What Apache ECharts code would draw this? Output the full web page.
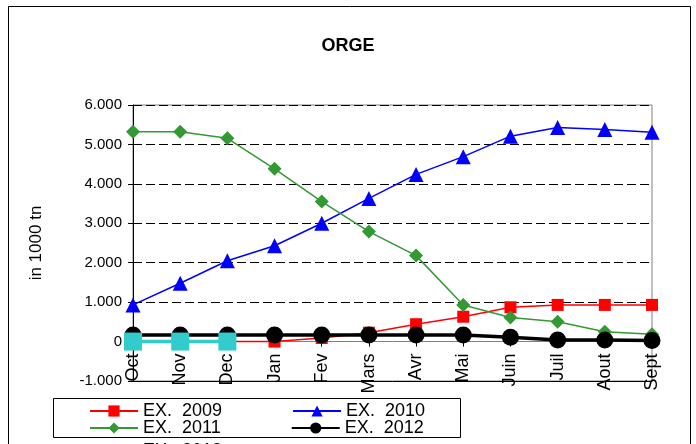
<!DOCTYPE html>
<html><head><meta charset="utf-8">
<script src="https://cdn.jsdelivr.net/npm/echarts@6/dist/echarts.min.js"></script>
<style>html,body{margin:0;padding:0;background:#fff}#c{width:696px;height:444px}</style>
</head><body><div id="c"></div>
<script>
const categories = ['Oct','Nov','Dec','Jan','Fev','Mars','Avr','Mai','Juin','Juil','Aout','Sept'];
const ex2009 = [0, 0, 0, 0, 90, 225, 440, 630, 870, 930, 930, 930];
const ex2010 = [930, 1480, 2050, 2430, 3000, 3630, 4240, 4690, 5210, 5430, 5380, 5310];
const ex2011 = [5320, 5320, 5155, 4380, 3550, 2790, 2180, 930, 610, 505, 250, 185];
const ex2012 = [165, 165, 165, 165, 165, 165, 165, 165, 110, 40, 40, 25];
const ex2013 = [0, 0, 0, null, null, null, null, null, null, null, null, null];
const seriesNames = ['EX.  2009', 'EX.  2010', 'EX.  2011', 'EX.  2012', 'EX.  2013'];
const yTicks = { min: -1000, max: 6000, step: 1000 };

const font = 'Liberation Sans, Arial, sans-serif';
function fmt(v){ const s = Math.abs(v).toString().replace(/\B(?=(\d{3})+(?!\d))/g, '.'); return (v<0?'-':'') + s; }

const W = 696, H = 444;
const grid = { left:133, right:44, top:105, bottom:63 };
const plotH = H - grid.top - grid.bottom;
// position of the category axis (value 0) measured from the bottom of the plot
const zeroOffset = -plotH * (0 - yTicks.min) / (yTicks.max - yTicks.min);

const chart = echarts.init(document.getElementById('c'), null, {renderer:'canvas'});
const legendBase = { orient:'horizontal', itemWidth:48, itemHeight:14, textStyle:{fontFamily:font, fontSize:18, color:'#000'}, itemGap:70, itemTextGap:5, padding:0, selectedMode:false };
chart.setOption({
  animation:false,
  backgroundColor:'#fff',
  textStyle:{fontFamily:font},
  title:{ text:'ORGE', left:'center', top:32, textStyle:{fontFamily:font, fontSize:18, fontWeight:'bold', color:'#000'} },
  graphic:[
    { type:'rect', shape:{x:8.5, y:6.5, width:682, height:460}, style:{fill:null, stroke:'#000', lineWidth:1}, silent:true, z:-10 },
    { type:'rect', shape:{x:53.5, y:398.5, width:407, height:39}, style:{fill:null, stroke:'#000', lineWidth:1}, silent:true, z:100 }
  ],
  legend:[
    Object.assign({}, legendBase, { left:89, top:402, data:[seriesNames[0], seriesNames[1]] }),
    Object.assign({}, legendBase, { left:89, top:419, data:[seriesNames[2], seriesNames[3]] }),
    Object.assign({}, legendBase, { left:89, top:442, data:[seriesNames[4]] })
  ],
  grid:Object.assign({ show:true, borderColor:'#808080', borderWidth:1 }, grid),
  xAxis:[
    { type:'category', data:categories, boundaryGap:false, position:'bottom', offset:zeroOffset,
      axisLine:{ onZero:false, lineStyle:{color:'#808080', width:1} },
      axisTick:{ show:true, length:5, lineStyle:{color:'#000'} },
      axisLabel:{ rotate:90, margin:12, fontFamily:font, fontSize:18, color:'#000' },
      splitLine:{show:false} },
    { type:'category', data:categories, boundaryGap:false, position:'bottom',
      axisLine:{ onZero:false, lineStyle:{color:'#000', width:1} },
      axisTick:{show:false}, axisLabel:{show:false}, splitLine:{show:false} }
  ],
  yAxis:{ type:'value', min:yTicks.min, max:yTicks.max, interval:yTicks.step,
    name:'in 1000 tn', nameLocation:'middle', nameGap:88, nameRotate:90,
    nameTextStyle:{fontFamily:font, fontSize:17, color:'#000'},
    axisLine:{ show:true, onZero:false, lineStyle:{color:'#000', width:1} },
    axisTick:{ show:true, length:5, lineStyle:{color:'#000'} },
    axisLabel:{ formatter:fmt, margin:11, fontFamily:font, fontSize:15, color:'#000' },
    splitLine:{ show:true, lineStyle:{color:'#000', type:[9,4], width:1} } },
  series:[
    { name:seriesNames[0], type:'line', data:ex2009, symbol:'rect', symbolSize:12, color:'#FF0000', lineStyle:{width:1.5}, z:2 },
    { name:seriesNames[1], type:'line', data:ex2010, symbol:'triangle', symbolSize:15, color:'#0000FF', lineStyle:{width:1.5}, z:3 },
    { name:seriesNames[2], type:'line', data:ex2011, symbol:'diamond', symbolSize:14, color:'#339933', lineStyle:{width:1.5}, z:4 },
    { name:seriesNames[3], type:'line', data:ex2012, symbol:'circle', symbolSize:17, color:'#000000', lineStyle:{width:3.5}, z:5 },
    { name:seriesNames[4], type:'line', data:ex2013, symbol:'rect', symbolSize:18, color:'#33CCCC', lineStyle:{width:3.5}, z:6, connectNulls:false }
  ]
});
</script></body></html>
